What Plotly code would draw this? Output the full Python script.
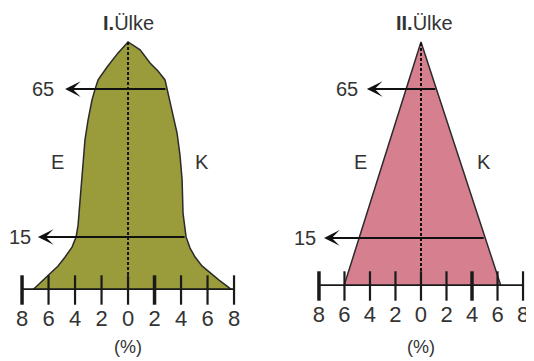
import plotly.graph_objects as go

# profile of country I (x in %, level = relative height 0..100)
left_x = [-7.2, -6.87, -6.42, -5.28, -4.75, -4.23, -3.92, -3.77, -3.70, -3.62, -3.47, -3.40,
          -3.25, -3.02, -2.72, -2.49, -2.26, -1.58, -0.75,
          0, 0.91, 1.66, 2.26, 2.79, 2.94, 3.32, 3.70, 3.92, 4.08, 4.15, 4.38,
          4.68, 5.06, 5.58, 6.19, 6.87, 7.47, 7.85]
left_lvl = [0, 1.6, 4.0, 9.7, 13.3, 17.3, 21.4, 26.2, 31, 36.3, 44.4, 52.4,
            60.5, 68.5, 76.6, 81, 84.7, 89.9, 95.6,
            100, 96.8, 91.5, 88.3, 84.7, 81, 72.6, 63.3, 54.4, 44.4, 31, 21.4,
            16.9, 13.3, 9.7, 6.9, 4.0, 1.6, 0]

# profile of country II
right_x = [-6.04, 0, 6.27]
right_lvl = [0, 100, 0]

tick_vals = [-8, -6, -4, -2, 0, 2, 4, 6, 8]
tick_text = ["8", "6", "4", "2", "0", "2", "4", "6", "8"]
age_labels = ["15", "65"]

# age line levels, line extent (x start = arrow tip, x end = right edge)
age_lvl_I = [21.4, 81]
age_tip_I = [-6.8, -4.75]
age_end_I = [4.38, 2.94]
age_lab_x_I = [-8.15, -6.42]

age_lvl_II = [19.7, 80.7]
age_tip_II = [-7.6, -4.24]
age_end_II = [5.03, 1.25]
age_lab_x_II = [-9.1, -5.8]

FONT = "Liberation Sans, Arial, sans-serif"

fig = go.Figure()


def add_panel(xs, lv, color, xa, ya, lvl, tips, ends, lab_x, ek, title, thick):
    fig.add_trace(go.Scatter(x=xs, y=lv, xaxis=xa, yaxis=ya, mode="lines", fill="toself",
                             fillcolor=color, line=dict(color="#2b2b2b", width=1.5),
                             hoverinfo="skip"))
    # center dashed line
    fig.add_trace(go.Scatter(x=[0, 0], y=[0, 100], xaxis=xa, yaxis=ya, mode="lines",
                             line=dict(color="#111", width=2, dash="3px,2px"), hoverinfo="skip"))
    # base axis line
    fig.add_trace(go.Scatter(x=[tick_vals[0], tick_vals[-1]], y=[0, 0], xaxis=xa, yaxis=ya,
                             mode="lines", line=dict(color="#1a1a1a", width=3.5),
                             cliponaxis=False, hoverinfo="skip"))
    widths = [3.5 if v in thick else 2.2 for v in tick_vals]
    fig.add_trace(go.Scatter(x=tick_vals, y=[0] * len(tick_vals), xaxis=xa, yaxis=ya,
                             mode="markers", cliponaxis=False,
                             marker=dict(symbol="line-ns", size=21,
                                         line=dict(color="#1a1a1a", width=widths)),
                             hoverinfo="skip"))
    for lab, l, t, e, lx in zip(age_labels, lvl, tips, ends, lab_x):
        fig.add_annotation(x=t, y=l, ax=e, ay=l, xref=xa, yref=ya, axref=xa, ayref=ya,
                           text="", showarrow=True, arrowhead=3, arrowsize=1.3,
                           arrowwidth=2, arrowcolor="#111", standoff=0)
        fig.add_annotation(x=lx, y=l, xref=xa, yref=ya, text=lab, showarrow=False,
                           font=dict(size=20, color="#333", family=FONT))
    for txt, (ex, el) in zip(["E", "K"], ek):
        fig.add_annotation(x=ex, y=el, xref=xa, yref=ya, text=txt, showarrow=False,
                           font=dict(size=20, color="#333", family=FONT))
    fig.add_annotation(x=title[1], y=title[2], xref=xa, yref=ya, text=title[0],
                       showarrow=False, font=dict(size=20, color="#333", family=FONT))
    fig.add_annotation(x=0, y=0.0397, xref=xa, yref="paper", yanchor="middle", text="(%)",
                       showarrow=False, font=dict(size=18, color="#333", family=FONT))


add_panel(left_x, left_lvl, "#9a9b3a", "x", "y", age_lvl_I, age_tip_I, age_end_I,
          age_lab_x_I, [(-5.36, 51.6), (5.58, 51.6)], ("<b>I.</b>Ülke", 0, 107.7), [-8, 2])
add_panel(right_x, right_lvl, "#d67f8f", "x2", "y2", age_lvl_II, age_tip_II, age_end_II,
          age_lab_x_II, [(-4.78, 50.8), (4.94, 50.8)], ("<b>II.</b>Ülke", 0.3, 107.8), [-8, 4])

axis_common = dict(tickvals=tick_vals, ticktext=tick_text, showgrid=False, zeroline=False,
                   showline=False, ticks="outside", ticklen=9, tickcolor="rgba(0,0,0,0)",
                   automargin=False,
                   tickfont=dict(size=22, color="#333", family=FONT))

# page body has an 8px margin, so the figure is 8px smaller than the window
fig.update_layout(
    width=526, height=353, margin=dict(l=0, r=0, t=0, b=0),
    paper_bgcolor="white", plot_bgcolor="white", showlegend=False,
    xaxis=dict(domain=[0, 0.5], range=[-9.06, 10.79], anchor="y", **axis_common),
    xaxis2=dict(domain=[0.5, 1], range=[-11.76, 8.86], anchor="y2", **axis_common),
    yaxis=dict(domain=[0.2011, 1], range=[0, 113.7], visible=False, automargin=False),
    yaxis2=dict(domain=[0.2125, 1], range=[0, 113.9], visible=False, anchor="x2", automargin=False),
)

fig.write_html("out.html")
